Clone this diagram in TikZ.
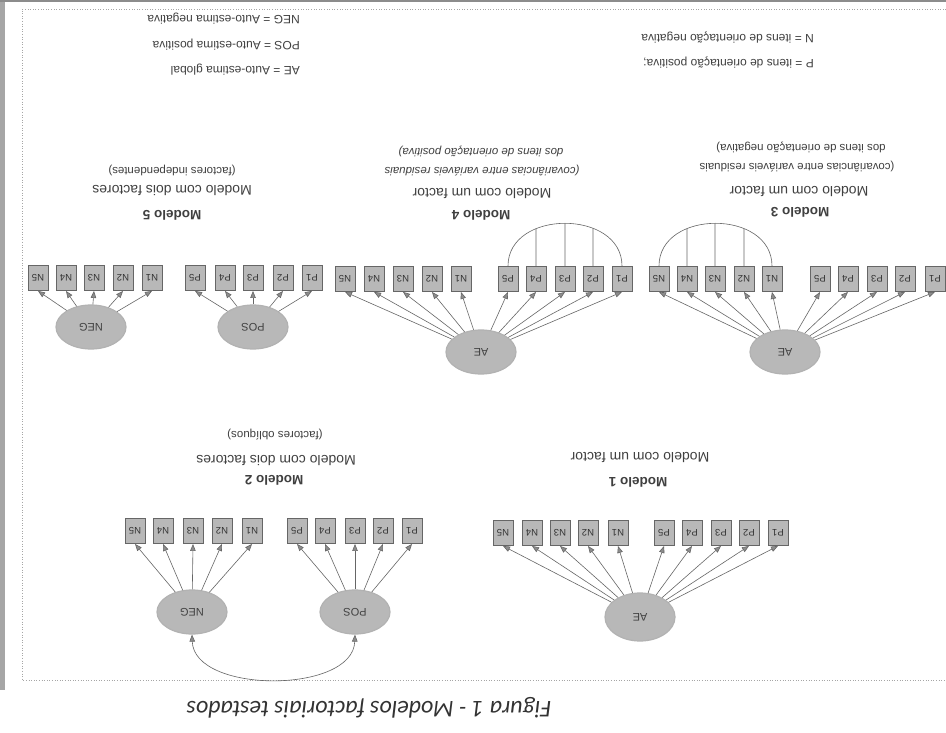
\documentclass[tikz,border=0pt]{standalone}
\usepackage{fontspec}
\setmainfont{Liberation Sans}
\newfontfamily\capfont{Carlito}
\usetikzlibrary{arrows.meta,intersections,calc,shapes.geometric}
\newcommand\itemgroup[3]{%
  \foreach \lab/\xx in {#3} {\node[obs] (#1\lab) at (\xx,#2) {\lab};}}
\begin{document}
\begin{tikzpicture}[x=1pt,y=-1pt,
  obs/.style={draw=black!60, fill=black!28, line width=0.9pt, minimum width=20pt, minimum height=25pt, inner sep=0pt, rotate=180, font=\fontsize{9.5}{9.5}\selectfont, text=black!80},
  lat/.style={ellipse, draw=black!30, fill=black!28, line width=1.2pt, minimum width=70pt, minimum height=44pt, inner sep=0pt, rotate=180, font=\fontsize{11}{11}\selectfont, text=black!75},
  load/.style={draw=black!60, line width=0.6pt, -{Triangle[length=7pt,width=5.5pt,fill=black!45]}},
  cov/.style={draw=black!60, line width=0.6pt},
  ttl/.style={rotate=180, font=\bfseries\fontsize{13.5}{13.5}\selectfont, text=black!75, inner sep=0pt},
  sub/.style={rotate=180, font=\fontsize{14}{14}\selectfont, text=black!75, inner sep=0pt},
  note/.style={rotate=180, font=\fontsize{11.5}{11.5}\selectfont, text=black!75, inner sep=0pt},
  inote/.style={note, font=\itshape\fontsize{11.5}{11.5}\selectfont},
  leg/.style={rotate=180, font=\fontsize{12}{12}\selectfont, text=black!75, inner sep=0pt, anchor=west}]
\useasboundingbox (0,0) rectangle (946,733);
\fill[white] (0,0) rectangle (946,733);
% frame
\fill[black!35] (0,0) rectangle (5,690);
\draw[black!45, line width=2pt] (0,1) -- (946,1);
\draw[black!35, dotted, line width=0.6pt] (946,9) -- (22,9) -- (22,680) -- (946,680);
% legends
\node[leg] (lgneg) at (300,19) {NEG = Auto-estima negativa};
\node[leg] (lgpos) at (300,45) {POS = Auto-estima positiva};
\node[leg] (lgae)  at (300,70) {AE = Auto-estima global};
\node[leg] (lgn) at (814,38) {N = itens de orientação negativa};
\node[leg] (lgp) at (814,63) {P = itens de orientação positiva;};
% ---------- Modelo 5 ----------
\node[note] (m5c) at (172,170) {(factores independentes)};
\node[sub]  (m5b) at (172,191) {Modelo com dois factores};
\node[ttl]  (m5a) at (172,215) {Modelo 5};
\itemgroup{m5}{278}{N5/38,N4/66,N3/94,N2/123,N1/152,P5/195,P4/225,P3/253,P2/283,P1/312}
\node[lat] (m5neg) at (91,327) {NEG};
\node[lat] (m5pos) at (253,327) {POS};
\foreach \lab in {N1,N2,N3,N4,N5} \draw[load] (m5neg) -- (m5\lab.north);
\foreach \lab in {P1,P2,P3,P4,P5} \draw[load] (m5pos) -- (m5\lab.north);
% ---------- Modelo 4 ----------
\node[inote] (m4d) at (481,151) {dos itens de orientação positiva)};
\node[inote] (m4c) at (482,171) {(covariâncias entre variáveis residuais};
\node[sub]  (m4b) at (482,194) {Modelo com um factor};
\node[ttl]  (m4a) at (481,215) {Modelo 4};
\itemgroup{m4}{279}{N5/345,N4/374,N3/403,N2/432,N1/461,P5/508,P4/536,P3/565,P2/593,P1/622}
\node[lat] (m4ae) at (481,352) {AE};
\foreach \lab in {N1,N2,N3,N4,N5,P1,P2,P3,P4,P5} \draw[load] (m4ae) -- (m4\lab.north);
\path[name path=arcfour] (m4P5.south) .. controls ($(m4P5.south)+(0,-57)$) and ($(m4P1.south)+(0,-57)$) .. (m4P1.south);
\draw[cov] (m4P5.south) .. controls ($(m4P5.south)+(0,-57)$) and ($(m4P1.south)+(0,-57)$) .. (m4P1.south);
\foreach \lab in {P2,P3,P4} {
  \path[name path=vl] (m4\lab.south) -- ++(0,-80);
  \draw[cov, name intersections={of=vl and arcfour}] (m4\lab.south) -- (intersection-1);}
% ---------- Modelo 3 ----------
\node[note] (m3d) at (801,147) {dos itens de orientação negativa)};
\node[note] (m3c) at (797,167) {(covariâncias entre variáveis residuais};
\node[sub]  (m3b) at (799,192) {Modelo com um factor};
\node[ttl]  (m3a) at (800,212) {Modelo 3};
\itemgroup{m3}{279}{N5/659,N4/687,N3/715,N2/744,N1/772,P5/820,P4/848,P3/877,P2/905,P1/935}
\node[lat] (m3ae) at (785,352) {AE};
\foreach \lab in {N1,N2,N3,N4,N5,P1,P2,P3,P4,P5} \draw[load] (m3ae) -- (m3\lab.north);
\path[name path=arcthree] (m3N5.south) .. controls ($(m3N5.south)+(0,-57)$) and ($(m3N1.south)+(0,-57)$) .. (m3N1.south);
\draw[cov] (m3N5.south) .. controls ($(m3N5.south)+(0,-57)$) and ($(m3N1.south)+(0,-57)$) .. (m3N1.south);
\foreach \lab in {N2,N3,N4} {
  \path[name path=vl] (m3\lab.south) -- ++(0,-80);
  \draw[cov, name intersections={of=vl and arcthree}] (m3\lab.south) -- (intersection-1);}
% ---------- Modelo 2 ----------
\node[note] (m2c) at (275,435) {(factores oblíquos)};
\node[sub]  (m2b) at (276,461) {Modelo com dois factores};
\node[ttl]  (m2a) at (274,480) {Modelo 2};
\itemgroup{m2}{531}{N5/135,N4/163,N3/193,N2/222,N1/252,P5/297,P4/325,P3/355,P2/383,P1/412}
\node[lat] (m2neg) at (192,612) {NEG};
\node[lat] (m2pos) at (355,612) {POS};
\foreach \lab in {N1,N2,N3,N4,N5} \draw[load] (m2neg) -- (m2\lab.north);
\foreach \lab in {P1,P2,P3,P4,P5} \draw[load] (m2pos) -- (m2\lab.north);
\draw[cov, {Triangle[length=7pt,width=5.5pt,fill=black!45]}-{Triangle[length=7pt,width=5.5pt,fill=black!45]}] (m2neg.north) .. controls (194,694) and (353,694) .. (m2pos.north);
% ---------- Modelo 1 ----------
\node[sub]  (m1b) at (640,458) {Modelo com um factor};
\node[ttl]  (m1a) at (638,482) {Modelo 1};
\itemgroup{m1}{533}{N5/503,N4/532,N3/560,N2/588,N1/618,P5/664,P4/692,P3/721,P2/749,P1/778}
\node[lat, minimum height=48pt] (m1ae) at (640,617) {AE};
\foreach \lab in {N1,N2,N3,N4,N5,P1,P2,P3,P4,P5} \draw[load] (m1ae) -- (m1\lab.north);
% caption
\node[rotate=180, font=\capfont\itshape\fontsize{24}{24}\selectfont, text=black!80, inner sep=0pt] (cap) at (369,708) {Figura 1 - Modelos factoriais testados};
\end{tikzpicture}
\end{document}
